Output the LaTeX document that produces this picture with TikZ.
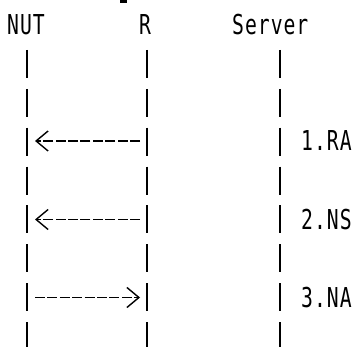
\documentclass[tikz,border=0pt]{standalone}
\usepackage{fontspec}
\newfontfamily\asciifont[FakeStretch=0.72,LetterSpace=3.6]{DejaVu Sans Mono}
\usetikzlibrary{arrows.meta,calc}

\begin{document}
\begin{tikzpicture}[x=1pt, y=-1pt,
  every node/.style={font=\asciifont\fontsize{27.4}{30}\selectfont, inner sep=0pt, anchor=base west},
  lifeline/.style={line width=1.8pt, dash pattern=on 28pt off 10.86pt},
  msg/.style={line width=1.4pt, dash pattern=on 10pt off 2.4pt, -{Straight Barb[length=12pt,width=20pt]}}]
\useasboundingbox (0,0) rectangle (358,347);
% header
\node (nut) at (7,35) {NUT};
\node (r) at (139,35) {R};
\node (server) at (232,35) {Server};
\fill (120,0) rectangle (127,3);
% lifelines
\coordinate (nutline) at (27,50);
\coordinate (rline) at (147,50);
\coordinate (srvline) at (280,50);
\draw[lifeline] (nutline) -- ++(0,297);
\draw[lifeline] (rline) -- ++(0,297);
\draw[lifeline] (srvline) -- ++(0,297);
% messages
\coordinate (m1) at (0,141);
\coordinate (m2) at (0,219.5);
\coordinate (m3) at (0,297.5);
\draw[msg] ($(rline |- m1)+(-7,0)$) -- ($(nutline |- m1)+(8,0)$);
\draw[msg] ($(rline |- m2)+(-7,0)$) -- ($(nutline |- m2)+(8,0)$);
\draw[msg] ($(nutline |- m3)+(8,0)$) -- ($(rline |- m3)+(-7,0)$);
\node (ra) at ($(srvline |- m1)+(21,10)$) {1.RA};
\node (ns) at ($(srvline |- m2)+(21,10)$) {2.NS};
\node (na) at ($(srvline |- m3)+(21,10)$) {3.NA};
\end{tikzpicture}
\end{document}
